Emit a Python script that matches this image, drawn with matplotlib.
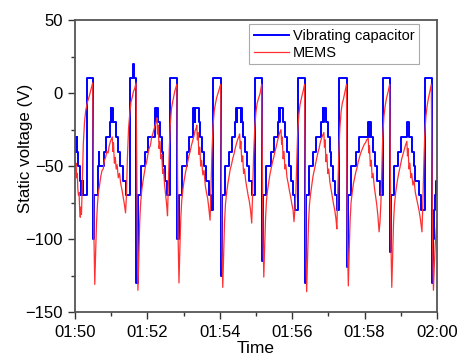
import numpy as np
import pandas as pd
import matplotlib
matplotlib.use('Agg')
import matplotlib.pyplot as plt
import matplotlib.dates as mdates
from matplotlib.ticker import MultipleLocator

plt.rcParams['font.family'] = ['Liberation Sans', 'DejaVu Sans']

# seconds after 01:50:00 , static voltage (V)
vib_cap = [
	(0, -30), (0.8, -40), (1.5, -30), (2.3, -40), (3, -30), (4, -40), (6, -50), (8, -60),
	(10, -70), (11, -60), (11.5, -70), (13, -60), (13.7, -70), (19.5, 10),
	(30, -100), (32.5, -70), (39, -50), (40, -40), (40.6, -50), (47.5, -40), (52, -30),
	(58.5, -20), (59.5, -10), (60.5, -20), (61, -10), (62.5, -20), (63, -10), (64, -20),
	(68.5, -30), (72, -40), (75, -50), (79, -60), (85, -70), (91, 10), (97, 20), (97.5, 10),
	(102, -130), (104, -70), (109, -50), (117, -40), (121, -30), (132, -20), (133.5, -10),
	(134.5, -20), (135, -10), (137, -20), (138, -10), (138.5, -20), (141, -30), (144, -40),
	(146, -50), (149, -60), (153, -70), (157.5, 10),
	(169.5, -100), (172, -70), (177, -50), (185, -40), (189, -30), (195, -20), (196, -10),
	(197, -20), (198, -10), (199, -20), (199.5, -10), (204.5, -10), (205.5, -20), (208, -30),
	(211, -40), (214, -50), (218, -60), (222, -70), (225, -80), (229, 10),
	(242, -125), (244.5, -70), (249, -50), (256, -40), (260, -30), (266, -20), (267, -10),
	(268, -20), (268.5, -10), (275, -20), (275.5, -10), (276.5, -20), (279, -30), (282, -40),
	(285, -50), (289, -60), (293, -70), (298, 10),
	(310, -115), (312.5, -70), (317, -50), (325, -40), (330, -30), (336, -20), (338, -10),
	(339, -20), (340, -10), (344, -20), (348, -30), (351, -40), (354, -50), (358, -60),
	(362, -70), (365, -80), (370, 10),
	(381, -130), (383, -70), (388, -50), (395, -40), (400, -30), (407, -20), (410.5, -10),
	(411.5, -20), (412, -10), (415.5, -20), (419, -30), (422, -40), (425, -50), (428, -60),
	(431, -70), (433.5, -80), (437.5, 10),
	(450, -119), (452.5, -70), (457, -50), (465, -40), (471, -30), (485, -20), (486.5, -30),
	(487.5, -20), (488.5, -30), (489.5, -20), (490.5, -30), (494, -40), (497, -50), (501, -60),
	(505, -70), (510.5, 10),
	(522, -109), (524, -70), (529, -50), (536, -40), (541, -30), (550, -20), (554, -30),
	(558, -40), (561, -50), (564, -60), (570, -70), (574, -80), (580, 10),
	(591, -130), (593.5, -100), (595, -80), (597, -70), (598.5, -60), (600, -60),
]

mems = [
	(0, -46), (1, -50), (2, -48), (3, -58), (4, -55), (5, -66), (6, -70), (7, -68), (8, -80),
	(9, -85), (10, -78), (11, -83), (12.5, -60), (14, -35), (16, -20), (18, -12), (21, -6),
	(24, -2), (27, 3), (29.5, 7),
	(30.5, -45), (31.5, -95), (33, -131), (34.5, -108), (36, -88), (37.5, -76), (39, -68),
	(41, -63), (43, -57), (45, -53), (47, -52), (49, -46), (51, -44), (53, -40), (55, -41),
	(57, -36), (59, -33), (61, -31), (62, -30), (63, -40), (64, -34), (65.5, -48), (67, -44),
	(68.5, -52), (70, -49), (72, -58), (74, -55), (76, -62), (78, -66), (80, -71), (82, -76),
	(84, -82), (85.5, -70), (87, -45), (89, -24), (91, -14), (93, -6), (95, -3), (97, 1),
	(99, 3), (101.5, 7),
	(102.5, -50), (103.5, -100), (104.5, -135), (106, -110), (107.5, -88), (109, -75),
	(111, -66), (113, -60), (115, -55), (117, -50), (119, -47), (121, -42), (123, -38),
	(125, -36), (127, -31), (129, -28), (131, -25), (133, -22), (135, -19), (136, -17),
	(137, -28), (138, -22), (139.5, -38), (141, -33), (142.5, -45), (144, -42), (145.5, -55),
	(147, -52), (148.5, -62), (150.5, -70), (152, -76), (153.5, -84), (155, -62),
	(156.5, -38), (158, -22), (160, -11), (162, -6), (164, -2), (166, 2), (169, 6),
	(170, -48), (171, -98), (172.5, -130), (174, -106), (175.5, -86), (177, -74), (179, -66),
	(181, -60), (183, -55), (185, -51), (187, -47), (189, -43), (191, -40), (193, -36),
	(195, -33), (197, -30), (199, -26), (201, -24), (202, -22), (203, -32), (204, -27),
	(205.5, -42), (207, -37), (208.5, -50), (210, -46), (212, -56), (214, -53), (216, -63),
	(218, -68), (220, -72), (222, -79), (224, -87), (225.5, -66), (227, -42), (229, -22),
	(231, -12), (233, -7), (235, -3), (238, 1), (241.5, 6),
	(242.5, -50), (243.5, -100), (245, -133), (246.5, -110), (248, -88), (249.5, -76),
	(251.5, -68), (253.5, -62), (255.5, -57), (257.5, -52), (259.5, -49), (261.5, -45),
	(263.5, -42), (265.5, -38), (267.5, -35), (269.5, -32), (271.5, -30), (273, -28),
	(274, -38), (275, -33), (276.5, -47), (278, -43), (279.5, -55), (281, -52), (283, -60),
	(285, -65), (287, -70), (289, -74), (291, -80), (293, -89), (294.5, -68), (296, -44),
	(298, -24), (300, -13), (302, -7), (304, -4), (307, 0), (309.5, 6),
	(310.5, -48), (311.5, -95), (313, -126), (314.5, -104), (316, -85), (317.5, -73),
	(319.5, -66), (321.5, -60), (323.5, -55), (325.5, -51), (327.5, -47), (329.5, -44),
	(331.5, -40), (333.5, -37), (335.5, -33), (337.5, -30), (339.5, -27), (341.5, -25),
	(342.5, -35), (343.5, -30), (345, -45), (346.5, -40), (348, -52), (349.5, -49),
	(351.5, -58), (353.5, -62), (355.5, -67), (357.5, -71), (359.5, -76), (361.5, -80),
	(363, -88), (364.5, -80), (366, -70), (367.5, -48), (369, -28), (371, -15), (373, -8),
	(375, -4), (378, 1), (380.5, 6),
	(381.5, -52), (382.5, -102), (384, -136), (385.5, -112), (387, -90), (388.5, -77),
	(390.5, -69), (392.5, -63), (394.5, -57), (396.5, -53), (398.5, -49), (400.5, -45),
	(402.5, -41), (404.5, -38), (406.5, -34), (408.5, -31), (410.5, -29), (412.5, -27),
	(413.5, -37), (414.5, -32), (416, -47), (417.5, -42), (419, -55), (420.5, -52),
	(422.5, -61), (424.5, -66), (426.5, -71), (428.5, -76), (430.5, -80), (432.5, -86),
	(434, -93), (435.5, -70), (437, -45), (439, -24), (441, -13), (443, -7), (445, -4),
	(447.5, 1), (450, 6),
	(450.5, -50), (451.5, -100), (453, -132), (454.5, -108), (456, -87), (457.5, -75),
	(459.5, -68), (461.5, -62), (463.5, -58), (465.5, -54), (467.5, -51), (469.5, -47),
	(471.5, -44), (473.5, -41), (475.5, -39), (477.5, -37), (479.5, -35), (481.5, -34),
	(483.5, -32), (486, -31), (487, -41), (488, -36), (489.5, -50), (491, -46), (492.5, -58),
	(494, -55), (496, -64), (498, -70), (500, -76), (502, -84), (504, -95), (505.5, -88),
	(507, -75), (508.5, -52), (510, -30), (512, -16), (514, -9), (516, -4), (519, 1),
	(521.5, 6),
	(522.5, -50), (523.5, -100), (525, -133), (526.5, -110), (528, -88), (529.5, -76),
	(531.5, -68), (533.5, -62), (535.5, -57), (537.5, -53), (539.5, -49), (541.5, -45),
	(543.5, -42), (545.5, -39), (547.5, -36), (550, -33), (551, -43), (552, -38),
	(553.5, -52), (555, -48), (556.5, -58), (558, -55), (560, -63), (562, -60), (564, -68),
	(566, -72), (568, -76), (570, -80), (572, -85), (575, -95), (576.5, -75), (578, -50),
	(579.5, -30), (581.5, -16), (583.5, -9), (585.5, -4), (588, 1), (590.5, 6),
	(591.5, -50), (592.5, -100), (594, -135), (595.5, -118), (597, -104), (598.5, -95),
	(600, -88),
]

t0 = pd.Timestamp('2020-01-01 01:50:00')
vc_t = t0 + pd.to_timedelta([p[0] for p in vib_cap], unit='s')
vc_v = [p[1] for p in vib_cap]
me_t = t0 + pd.to_timedelta([p[0] for p in mems], unit='s')
me_v = [p[1] for p in mems]

fig = plt.figure(figsize=(4.62, 3.58), dpi=100)
ax = fig.add_axes([0.162, 0.128, 0.784, 0.816])
ax.plot(vc_t, vc_v, color='#0000ff', lw=1.4, drawstyle='steps-post', label='Vibrating capacitor')
ax.plot(me_t, me_v, color='#ff3030', lw=0.9, label='MEMS')

ax.set_xlim(t0, t0 + pd.Timedelta(minutes=10))
ax.set_ylim(-150, 50)
ax.xaxis.set_major_locator(mdates.MinuteLocator(byminute=range(0, 60, 2)))
ax.xaxis.set_minor_locator(mdates.MinuteLocator())
ax.xaxis.set_major_formatter(mdates.DateFormatter('%H:%M'))
ax.yaxis.set_major_locator(MultipleLocator(50))
ax.yaxis.set_minor_locator(MultipleLocator(25))
ax.tick_params(which='both', direction='out', top=False, right=False, colors='#333333',
	labelcolor='k', labelsize=12, width=1.0)
ax.tick_params(which='major', length=5)
ax.tick_params(which='minor', length=3)
ax.tick_params(axis='x', pad=4)
for s in ax.spines.values():
	s.set_color('#555555')
	s.set_linewidth(1.3)

ax.set_xlabel('Time', fontsize=12.5, labelpad=1)
ax.set_ylabel('Static voltage (V)', fontsize=12.2)
ax.yaxis.set_label_coords(-0.116, 0.56)

leg = ax.legend(loc='upper right', bbox_to_anchor=(0.95, 0.985), borderaxespad=0,
	fontsize=10.5, fancybox=False, framealpha=1, handlelength=2.4, handletextpad=0.3,
	borderpad=0.3, labelspacing=0.2)
leg.get_frame().set_edgecolor('#aaaaaa')
leg.get_frame().set_linewidth(0.8)

fig.savefig('out.png', dpi=100)
